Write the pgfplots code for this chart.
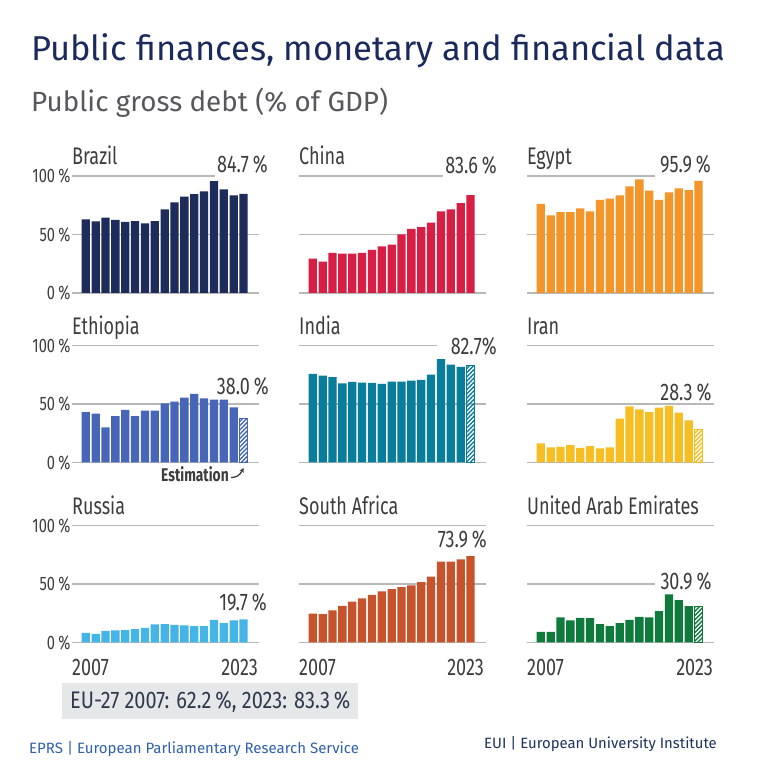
\documentclass[border=0pt]{standalone}
\usepackage{fontspec}
\setmainfont{Fira Sans}
\newfontfamily\cond[FakeStretch=0.75]{Fira Sans}
\newfontfamily\condw[FakeStretch=0.83]{Fira Sans}
\newfontfamily\condb[FakeStretch=0.75]{Fira Sans Bold}
\usepackage{pgfplots}
\pgfplotsset{compat=1.18}
\usetikzlibrary{patterns.meta,arrows.meta}

\definecolor{cBra}{HTML}{1D2C5B}
\definecolor{cChi}{HTML}{D71F45}
\definecolor{cEgy}{HTML}{F4952A}
\definecolor{cEth}{HTML}{4766B8}
\definecolor{cInd}{HTML}{087D9C}
\definecolor{cIra}{HTML}{F6BE22}
\definecolor{cRus}{HTML}{45B5E8}
\definecolor{cSaf}{HTML}{C6532B}
\definecolor{cUae}{HTML}{0E7A3B}
\definecolor{gridc}{HTML}{B8B8B8}
\definecolor{txt}{HTML}{3D3D3D}
\definecolor{titc}{HTML}{1B2A5C}
\definecolor{subc}{HTML}{58585A}
\definecolor{boxc}{HTML}{E6E7E9}
\definecolor{boxt}{HTML}{2F3A4F}
\definecolor{eprs}{HTML}{2F62AD}
\definecolor{eui}{HTML}{1D3461}

\pgfplotsset{
  panel/.style={scale only axis, width=187bp, height=117bp,
    xmin=2005.6, xmax=2024.57, ymin=0, ymax=100,
    axis line style={draw=none}, major tick length=0pt,
    xtick=\empty, ytick=\empty,
    ybar, bar width=0.84, bar shift=0pt,
    anchor=south west, clip=false},
  lefttick/.style={ytick={0,50,100}, yticklabels={0\,\%,50\,\%,100\,\%},
    yticklabel style={font=\cond\fontsize{19.5bp}{20bp}\selectfont, text=txt, anchor=east, xshift=2bp}},
}
\tikzset{
  gl/.style={draw=gridc, line width=1.1bp},
  ptitle/.style={anchor=base west, inner sep=0pt, text=txt, font=\cond\fontsize{24bp}{26bp}\selectfont},
  pval/.style={anchor=base east, inner sep=0pt, text=txt, font=\cond\fontsize{24bp}{26bp}\selectfont},
  hatch/.style={pattern={Lines[angle=45,distance=3bp,line width=1.4bp]}, pattern color=#1, draw=#1, line width=0.5bp},
}

\begin{document}
\begin{tikzpicture}
\path[use as bounding box] (0,0) rectangle (758bp,780bp);
\fill[white] (0,0) rectangle (758bp,780bp);

% titles
\node[anchor=base west, inner sep=0pt, text=titc, font=\fontsize{34.5bp}{38bp}\selectfont] at (31bp,719bp) {Public finances, monetary and financial data};
\node[anchor=base west, inner sep=0pt, text=subc, font=\fontsize{27.8bp}{31bp}\selectfont] at (31bp,668bp) {Public gross debt (\% of GDP)};

% ---------- Row 1 ----------
\begin{axis}[panel, lefttick, at={(72bp,487bp)}]
\draw[gl] (rel axis cs:0,0) -- (rel axis cs:1,0);
\draw[gl] (rel axis cs:0,0.5) -- (rel axis cs:1,0.5);
\draw[gl] (rel axis cs:0,1) -- (rel axis cs:0.765,1);
\addplot[fill=cBra, draw=none] coordinates {(2007,63.0) (2008,61.3) (2009,64.4) (2010,62.4) (2011,60.7) (2012,61.5) (2013,59.5) (2014,61.5) (2015,71.5) (2016,77.5) (2017,82.3) (2018,84.6) (2019,86.9) (2020,95.7) (2021,88.6) (2022,83.5) (2023,84.7)};
\end{axis}
\begin{axis}[panel, at={(299bp,487bp)}]
\draw[gl] (rel axis cs:0,0) -- (rel axis cs:1,0);
\draw[gl] (rel axis cs:0,0.5) -- (rel axis cs:1,0.5);
\draw[gl] (rel axis cs:0,1) -- (rel axis cs:0.772,1);
\addplot[fill=cChi, draw=none] coordinates {(2007,29.3) (2008,26.8) (2009,34.2) (2010,33.6) (2011,33.6) (2012,34.2) (2013,36.8) (2014,39.9) (2015,41.3) (2016,50.1) (2017,54.7) (2018,56.4) (2019,60.1) (2020,69.8) (2021,71.5) (2022,76.9) (2023,83.6)};
\end{axis}
\begin{axis}[panel, at={(527bp,487bp)}]
\draw[gl] (rel axis cs:0,0) -- (rel axis cs:1,0);
\draw[gl] (rel axis cs:0,0.5) -- (rel axis cs:1,0.5);
\draw[gl] (rel axis cs:0,1) -- (rel axis cs:0.684,1);
\addplot[fill=cEgy, draw=none] coordinates {(2007,76.1) (2008,66.4) (2009,69.2) (2010,69.2) (2011,72.4) (2012,69.8) (2013,79.5) (2014,80.6) (2015,83.5) (2016,91.2) (2017,97.2) (2018,87.5) (2019,79.5) (2020,86.0) (2021,89.5) (2022,88.0) (2023,95.9)};
\end{axis}

% ---------- Row 2 ----------
\begin{axis}[panel, lefttick, at={(72bp,317.5bp)}]
\draw[gl] (rel axis cs:0,0) -- (rel axis cs:1,0);
\draw[gl] (rel axis cs:0,0.5) -- (rel axis cs:1,0.5);
\draw[gl] (rel axis cs:0,1) -- (rel axis cs:1,1);
\addplot[fill=cEth, draw=none] coordinates {(2007,43.1) (2008,41.7) (2009,30.0) (2010,39.7) (2011,44.9) (2012,39.7) (2013,44.3) (2014,44.3) (2015,50.6) (2016,52.0) (2017,55.4) (2018,58.6) (2019,54.9) (2020,53.7) (2021,53.7) (2022,47.1)};
\addplot[hatch=cEth] coordinates {(2023,38.0)};
\end{axis}
\begin{axis}[panel, at={(299bp,317.5bp)}]
\draw[gl] (rel axis cs:0,0) -- (rel axis cs:1,0);
\draw[gl] (rel axis cs:0,0.5) -- (rel axis cs:1,0.5);
\draw[gl] (rel axis cs:0,1) -- (rel axis cs:0.736,1);
\addplot[fill=cInd, draw=none] coordinates {(2007,75.7) (2008,74.3) (2009,72.9) (2010,67.7) (2011,68.9) (2012,68.3) (2013,68.0) (2014,67.1) (2015,69.1) (2016,69.1) (2017,70.0) (2018,70.6) (2019,75.1) (2020,88.3) (2021,83.7) (2022,81.7)};
\addplot[hatch=cInd] coordinates {(2023,82.7)};
\end{axis}
\begin{axis}[panel, at={(527bp,317.5bp)}]
\draw[gl] (rel axis cs:0,0) -- (rel axis cs:1,0);
\draw[gl] (rel axis cs:0,0.5) -- (rel axis cs:1,0.5);
\draw[gl] (rel axis cs:0,1) -- (rel axis cs:1,1);
\addplot[fill=cIra, draw=none] coordinates {(2007,16.3) (2008,12.9) (2009,13.4) (2010,14.9) (2011,12.6) (2012,14.0) (2013,12.0) (2014,12.9) (2015,37.4) (2016,48.0) (2017,45.4) (2018,43.1) (2019,46.9) (2020,48.3) (2021,42.6) (2022,36.0)};
\addplot[hatch=cIra] coordinates {(2023,28.3)};
\end{axis}

% ---------- Row 3 ----------
\begin{axis}[panel, lefttick, at={(72bp,137.5bp)}]
\draw[gl] (rel axis cs:0,0) -- (rel axis cs:1,0);
\draw[gl] (rel axis cs:0,0.5) -- (rel axis cs:1,0.5);
\draw[gl] (rel axis cs:0,1) -- (rel axis cs:1,1);
\addplot[fill=cRus, draw=none] coordinates {(2007,8.3) (2008,7.4) (2009,10.0) (2010,10.3) (2011,10.6) (2012,11.4) (2013,12.6) (2014,15.4) (2015,15.7) (2016,15.1) (2017,14.6) (2018,14.0) (2019,14.0) (2020,19.4) (2021,16.6) (2022,18.9) (2023,19.7)};
\end{axis}
\begin{axis}[panel, at={(299bp,137.5bp)}]
\draw[gl] (rel axis cs:0,0) -- (rel axis cs:1,0);
\draw[gl] (rel axis cs:0,0.5) -- (rel axis cs:1,0.5);
\draw[gl] (rel axis cs:0,1) -- (rel axis cs:1,1);
\addplot[fill=cSaf, draw=none] coordinates {(2007,24.6) (2008,24.3) (2009,27.4) (2010,31.4) (2011,34.9) (2012,37.7) (2013,40.6) (2014,43.7) (2015,45.7) (2016,47.4) (2017,48.9) (2018,51.7) (2019,56.3) (2020,69.1) (2021,69.1) (2022,71.1) (2023,73.9)};
\end{axis}
\begin{axis}[panel, at={(527bp,137.5bp)}]
\draw[gl] (rel axis cs:0,0) -- (rel axis cs:1,0);
\draw[gl] (rel axis cs:0,0.5) -- (rel axis cs:0.684,0.5);
\draw[gl] (rel axis cs:0,1) -- (rel axis cs:1,1);
\addplot[fill=cUae, draw=none] coordinates {(2007,9.1) (2008,9.1) (2009,21.4) (2010,18.9) (2011,21.1) (2012,20.9) (2013,15.7) (2014,14.0) (2015,16.6) (2016,19.4) (2017,22.0) (2018,21.4) (2019,26.9) (2020,41.1) (2021,36.3) (2022,31.1)};
\addplot[hatch=cUae] coordinates {(2023,30.9)};
\end{axis}

% panel titles
\node[ptitle] at (72bp,615bp) {Brazil};
\node[ptitle] at (299bp,615bp) {China};
\node[ptitle] at (527bp,615bp) {Egypt};
\node[ptitle] at (72bp,445bp) {Ethiopia};
\node[ptitle] at (299bp,445bp) {India};
\node[ptitle] at (527bp,445bp) {Iran};
\node[ptitle] at (72bp,265bp) {Russia};
\node[ptitle] at (299bp,265bp) {South Africa};
\node[ptitle] at (527bp,265bp) {United Arab Emirates};

% value labels
\node[pval] at (268bp,607bp) {84.7\,\%};
\node[pval] at (497bp,606bp) {83.6\,\%};
\node[pval] at (711bp,607bp) {95.9\,\%};
\node[pval] at (269bp,385bp) {38.0\,\%};
\node[pval] at (497bp,425bp) {82.7\%};
\node[pval] at (711.7bp,379.3bp) {28.3\,\%};
\node[pval] at (267bp,169.3bp) {19.7\,\%};
\node[pval] at (487bp,232bp) {73.9\,\%};
\node[pval] at (711.7bp,190bp) {30.9\,\%};

% years
\node[ptitle] at (72bp,104bp) {2007};
\node[ptitle] at (299bp,104bp) {2007};
\node[ptitle] at (527bp,104bp) {2007};
\node[pval] at (258bp,104bp) {2023};
\node[pval] at (484bp,104bp) {2023};
\node[pval] at (713bp,104bp) {2023};

% estimation
\node[anchor=base west, inner sep=0pt, text=txt, font=\condb\fontsize{18.4bp}{20bp}\selectfont] at (161bp,298.3bp) {Estimation};
\draw[-{Stealth[length=4.5bp,width=4.5bp]}, draw=txt, line width=1.3bp] (231bp,302.5bp) .. controls (237bp,302.5bp) and (240bp,305bp) .. (243.5bp,312bp);

% EU box
\fill[boxc] (62bp,61bp) rectangle (358bp,97.3bp);
\node[anchor=base west, inner sep=0pt, text=boxt, font=\condw\fontsize{24bp}{26bp}\selectfont] at (70bp,71bp) {EU-27 2007: 62.2\,\%, 2023: 83.3\,\%};

% footer
\node[anchor=base west, inner sep=0pt, text=eprs, font=\fontsize{15bp}{17bp}\selectfont] at (29bp,26.5bp) {EPRS | European Parliamentary Research Service};
\node[anchor=base east, inner sep=0pt, text=eui, font=\fontsize{14.9bp}{17bp}\selectfont] at (717bp,31.5bp) {EUI | European University Institute};
\end{tikzpicture}
\end{document}
